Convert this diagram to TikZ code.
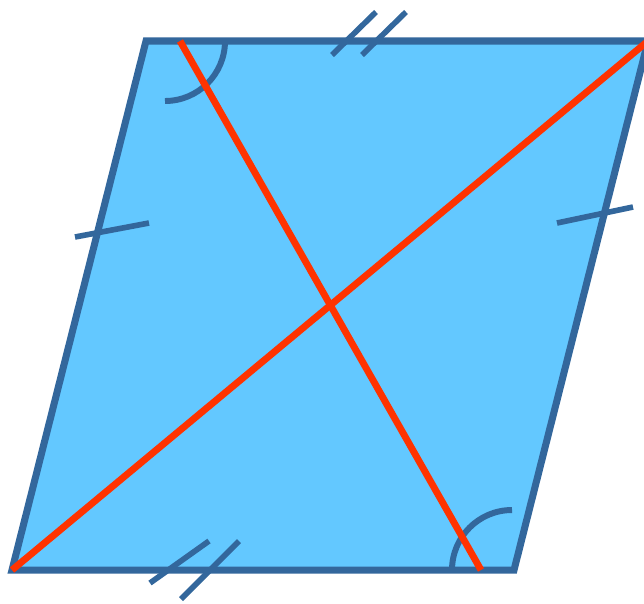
\documentclass[tikz,border=0pt]{standalone}
\usepackage{tikz}
\usepackage{xcolor}
\definecolor{rhfill}{HTML}{63C8FF}
\definecolor{rhedge}{HTML}{33679C}
\definecolor{rhred}{HTML}{FF3300}
\tikzset{
  edge/.style={draw=rhedge,line width=4pt,line join=miter,fill=rhfill},
  tick/.style={rhedge,line width=3.2pt},
  anglearc/.style={rhedge,line width=3.4pt},
  diag/.style={rhred,line width=3.9pt}
}
\begin{document}
\begin{tikzpicture}[x=0.02cm,y=-0.02cm]
\useasboundingbox (0,0) rectangle (644,603);
\clip (0,0) rectangle (644,603);
\coordinate (A) at (12,570);
\coordinate (B) at (514,570);
\coordinate (C) at (648,41);
\coordinate (D) at (146,41);
\coordinate (P) at (180,41);
\coordinate (Q) at (481,570);
\draw[edge] (A)--(B)--(C)--(D)--cycle;
\draw[anglearc] (165,101) arc[start angle=90,end angle=0,radius=60];
\draw[anglearc] (452,570) arc[start angle=180,end angle=270,radius=60];
\draw[tick] (75,237)--(149,223);
\draw[tick] (557,223)--(633,207);
\draw[tick] (332,55)--(376,12);
\draw[tick] (362,55)--(406,12);
\draw[tick] (150,583)--(209,541);
\draw[tick] (181,599)--(239,541);
\draw[diag] (A)--(C);
\draw[diag] (P)--(Q);
\end{tikzpicture}
\end{document}
